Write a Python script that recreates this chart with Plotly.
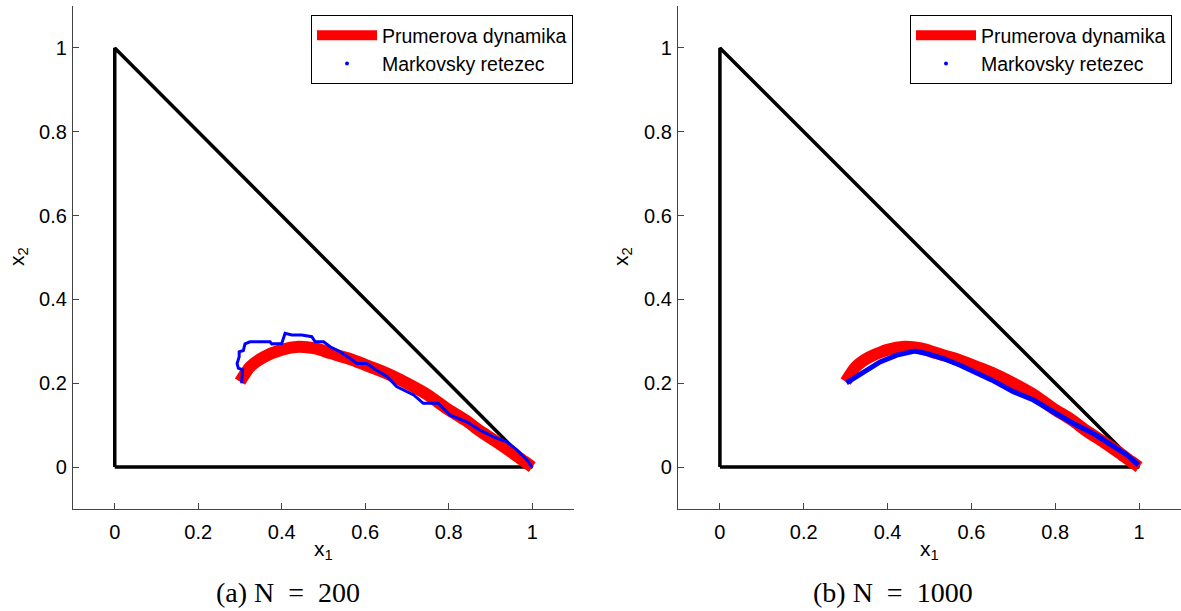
import plotly.graph_objects as go

# --- data ---
tri_x = [0, 1, 0, 0]
tri_y = [0, 0, 1, 0]

mean_x = [0.300, 0.324, 0.356, 0.400, 0.440, 0.480, 0.516, 0.560, 0.595, 0.651,
          0.700, 0.750, 0.795, 0.840, 0.875, 0.915, 0.950, 0.980, 1.000]
mean_y = [0.204, 0.239, 0.262, 0.280, 0.287, 0.283, 0.272, 0.259, 0.246, 0.224,
          0.200, 0.172, 0.140, 0.112, 0.086, 0.060, 0.036, 0.014, 0.000]

mc200_x = [0.304, 0.306, 0.296, 0.293, 0.298, 0.298, 0.308, 0.312, 0.324, 0.372,
           0.376, 0.400, 0.408, 0.424, 0.448, 0.472, 0.480, 0.500, 0.516, 0.540,
           0.564, 0.580, 0.604, 0.627, 0.652, 0.675, 0.716, 0.739, 0.775, 0.803,
           0.843, 0.875, 0.907, 0.939, 0.963, 0.987, 1.000]
mc200_y = [0.200, 0.232, 0.236, 0.247, 0.263, 0.275, 0.278, 0.294, 0.299, 0.299,
           0.294, 0.295, 0.319, 0.315, 0.315, 0.311, 0.299, 0.299, 0.287, 0.275,
           0.259, 0.247, 0.247, 0.231, 0.216, 0.192, 0.172, 0.152, 0.152, 0.124,
           0.108, 0.088, 0.072, 0.060, 0.041, 0.017, 0.000]

mc1000_x = [0.302, 0.342, 0.382, 0.422, 0.465, 0.493, 0.533, 0.573, 0.613, 0.648,
            0.700, 0.748, 0.795, 0.843, 0.891, 0.939, 0.971, 0.998]
mc1000_y = [0.201, 0.227, 0.251, 0.267, 0.277, 0.271, 0.259, 0.243, 0.224, 0.208,
            0.180, 0.160, 0.132, 0.104, 0.080, 0.048, 0.029, 0.005]

tick_vals = [0, 0.2, 0.4, 0.6, 0.8, 1]
tick_text = ["0", "0.2", "0.4", "0.6", "0.8", "1"]
name_mean = "Prumerova dynamika"
name_mc = "Markovsky retezec"
captions = ["(a) N&nbsp; = &nbsp;200", "(b) N&nbsp; = &nbsp;1000"]

W, H = 1181, 611
FONT = "Liberation Sans, Arial, Helvetica, sans-serif"
AXC = "#444444"

fig = go.Figure()

panels = [
    dict(xa="x", ya="y", leg="legend", mx=mc200_x, my=mc200_y, bw=3),
    dict(xa="x2", ya="y2", leg="legend2", mx=mc1000_x, my=mc1000_y, bw=5),
]

for p in panels:
    fig.add_trace(go.Scatter(x=tri_x, y=tri_y, mode="lines", xaxis=p["xa"], yaxis=p["ya"],
                             line=dict(color="black", width=3.5), showlegend=False,
                             hoverinfo="skip"))
    fig.add_trace(go.Scatter(x=mean_x, y=mean_y, mode="lines", xaxis=p["xa"], yaxis=p["ya"],
                             line=dict(color="#ff0000", width=12, shape="spline", smoothing=0.6),
                             name=name_mean, legend=p["leg"], showlegend=True))
    fig.add_trace(go.Scatter(x=p["mx"], y=p["my"], mode="lines", xaxis=p["xa"], yaxis=p["ya"],
                             line=dict(color="#0000ff", width=p["bw"]),
                             name=name_mc, showlegend=False))
    # legend-only entry: the chain is drawn as dots
    fig.add_trace(go.Scatter(x=[None], y=[None], mode="markers", xaxis=p["xa"], yaxis=p["ya"],
                             marker=dict(color="#0000ff", size=4, symbol="circle"),
                             name=name_mc, legend=p["leg"], showlegend=True))

ax_common = dict(range=[-0.1, 1.1], tickvals=tick_vals, ticktext=tick_text,
                 showgrid=False, zeroline=False, showline=True, linecolor=AXC, linewidth=1.2,
                 ticks="inside", ticklen=6, tickcolor=AXC, tickwidth=1,
                 tickfont=dict(family=FONT, size=20, color="black"), mirror=False)

py0 = (H - 509) / H
py1 = (H - 6) / H
leg_common = dict(yanchor="top", y=1 - 15 / H, xanchor="right",
                  bgcolor="white", bordercolor="black", borderwidth=1,
                  font=dict(family=FONT, size=19.5, color="black"), itemwidth=60,
                  tracegroupgap=0)
fig.update_layout(
    width=W, height=H, margin=dict(l=0, r=0, t=0, b=0),
    paper_bgcolor="white", plot_bgcolor="white",
    xaxis=dict(domain=[73 / W, 574 / W], anchor="y", ticklabelstandoff=5, **ax_common),
    yaxis=dict(domain=[py0, py1], anchor="x", ticklabelstandoff=1, **ax_common),
    xaxis2=dict(domain=[678 / W, 1.0], anchor="y2", ticklabelstandoff=5, **ax_common),
    yaxis2=dict(domain=[py0, py1], anchor="x2", ticklabelstandoff=1, **ax_common),
    legend=dict(x=573 / W, **leg_common),
    legend2=dict(x=1172 / W, **leg_common),
    showlegend=True,
)

ann = []
for cx, ycx in [(323.5, 18), (929.5, 622)]:
    ann.append(dict(x=cx / W, y=1 - 550 / H, xref="paper", yref="paper", showarrow=False,
                    text="x<sub>1</sub>", font=dict(family=FONT, size=21, color="black"),
                    xanchor="center", yanchor="middle"))
    ann.append(dict(x=ycx / W, y=1 - 257 / H, xref="paper", yref="paper", showarrow=False,
                    text="x<sub>2</sub>", textangle=-90,
                    font=dict(family=FONT, size=21, color="black"),
                    xanchor="center", yanchor="middle"))
for cx, cap in [(288, captions[0]), (893, captions[1])]:
    ann.append(dict(x=cx / W, y=1 - 592 / H, xref="paper", yref="paper", showarrow=False,
                    text=cap, font=dict(family="Liberation Serif, serif", size=28, color="black"),
                    xanchor="center", yanchor="middle"))
fig.update_layout(annotations=ann)

fig.write_html("out.html")
